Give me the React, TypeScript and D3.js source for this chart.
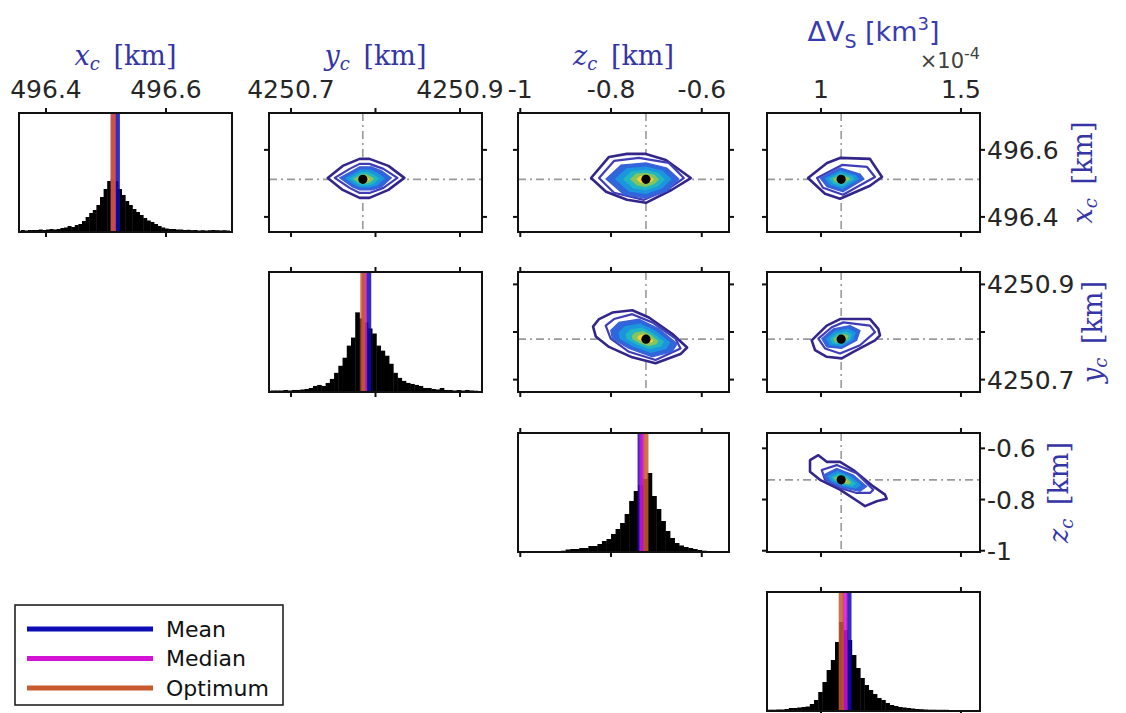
import * as d3 from "d3";
import React, { useEffect, useRef } from "react";

// ---- parameters (same order for columns and rows) ----
const paramDomains: [number, number][] = [
  [496.355, 496.71],
  [4250.674, 4250.926],
  [-1.005, -0.54],
  [0.807, 1.568], // x 1e-4
];
const paramTicks = [
  [496.4, 496.6],
  [4250.7, 4250.8, 4250.9],
  [-1, -0.8, -0.6],
  [1, 1.5],
];
const paramTickLabels = [
  ["496.4", "496.6"],
  ["4250.7", "", "4250.9"],
  ["-1", "-0.8", "-0.6"],
  ["1", "1.5"],
];

const meanValues = [496.519, 4250.792, -0.736, 1.1];
const medianValues = [496.512, 4250.787, -0.732, 1.086];
const optimumValues = [496.512, 4250.785, -0.723, 1.072];

// ---- histograms ----
const histBinStart = [496.358, 4250.676, -1.0, 0.81];
const histBinWidth = [0.006, 0.005, 0.01, 0.015];
const xcCounts = [
  1, 0.5, 1, 1, 1, 1.5, 1, 1.5, 2, 1.5, 2, 3, 3.5, 5, 4, 6, 7, 10, 14, 18, 21, 26, 34, 42, 50, 52, 50, 42, 36, 30,
  26, 22, 19, 16, 13, 10.5, 9, 7, 5, 3.5, 2.5, 2, 2, 1.5, 1.5, 1, 1.2, 0.8, 1, 0.5, 0.8, 0.5, 0.8, 1, 0.8, 0.6, 0.8,
  0.5,
];
const ycCounts = [
  0.5, 0.5, 0.5, 1, 0.5, 1, 1, 1.5, 2, 3, 5, 6, 5, 8, 12, 18, 25, 33, 45, 53, 78, 72, 68, 62, 57, 45, 40, 35, 27, 18,
  13, 10, 8, 7, 6, 5, 3, 3, 2, 1.5, 3, 1, 1, 0.5, 1, 0.5, 1, 0.5, 0.3, 0,
];
const zcCounts = [
  0, 0, 0, 0, 0, 0, 0, 0, 0, 0.3, 1.5, 2, 2, 3, 3, 5, 5, 7, 10, 12, 17, 22, 28, 37, 50, 60, 66, 72, 78, 55, 42, 30,
  20, 13, 8, 5.5, 4, 3, 2, 1, 0.3, 0, 0, 0, 0, 0,
];
const dvCounts = [
  0.3, 0.3, 0.5, 0.5, 1, 2, 2, 2.5, 3, 3.5, 6, 10, 18, 28, 40, 50, 68, 88, 80, 70, 55, 42, 32, 25, 20, 16, 12, 10, 7,
  5, 4, 3, 2.5, 2, 1.5, 1, 0.8, 0.5, 0.3, 0.3, 0.2, 0.2, 0.2, 0, 0, 0, 0, 0, 0, 0,
];
const histCounts = [xcCounts, ycCounts, zcCounts, dvCounts];
const histMax = 118;

// ---- 2D contour rings (data units: [column param, row param]) ----
const ycXc = {
  outer: [[4250.7435, 496.5164], [4250.7612, 496.5522], [4250.7812, 496.5731], [4250.7929, 496.5731], [4250.8153, 496.5522], [4250.8341, 496.5164], [4250.8153, 496.4806], [4250.7929, 496.4567], [4250.7812, 496.4567], [4250.7612, 496.4806]],
  middle: [[4250.7518, 496.5164], [4250.7694, 496.5433], [4250.7812, 496.5582], [4250.7929, 496.5582], [4250.8094, 496.5433], [4250.8259, 496.5164], [4250.8094, 496.4866], [4250.7929, 496.4716], [4250.7812, 496.4716], [4250.7694, 496.4866]],
  core: [[4250.7576, 496.5164], [4250.7729, 496.5373], [4250.7812, 496.5493], [4250.7953, 496.5493], [4250.8071, 496.5373], [4250.8188, 496.5164], [4250.8071, 496.4896], [4250.7953, 496.4806], [4250.7812, 496.4806], [4250.7729, 496.4896]],
};
const zcXc = {
  outer: [[-0.844, 496.516], [-0.8044, 496.579], [-0.7648, 496.588], [-0.7231, 496.588], [-0.6791, 496.57], [-0.6242, 496.516], [-0.6659, 496.481], [-0.7231, 496.442], [-0.7648, 496.451], [-0.811, 496.475]],
  middle: [[-0.8264, 496.516], [-0.7934, 496.567], [-0.7385, 496.576], [-0.6725, 496.561], [-0.6396, 496.516], [-0.6769, 496.481], [-0.7275, 496.451], [-0.7934, 496.472]],
  core: [[-0.811, 496.513], [-0.778, 496.555], [-0.7231, 496.561], [-0.6769, 496.546], [-0.6505, 496.513], [-0.6769, 496.477], [-0.7231, 496.456], [-0.7714, 496.466]],
};
const dvXc = {
  outer: [[0.9536, 496.516], [1.0214, 496.561], [1.0679, 496.576], [1.175, 496.573], [1.2179, 496.519], [1.175, 496.493], [1.0679, 496.454], [1.0143, 496.469]],
  middle: [[0.9857, 496.516], [1.075, 496.555], [1.1643, 496.549], [1.1929, 496.519], [1.0786, 496.466], [1.0071, 496.487]],
  core: [[0.9964, 496.516], [1.0679, 496.546], [1.1393, 496.528], [1.1536, 496.513], [1.0786, 496.475], [1.0214, 496.49]],
};
const zcYc = {
  outer: [[-0.8396, 4250.8113], [-0.8264, 4250.8272], [-0.7971, 4250.8408], [-0.7532, 4250.8458], [-0.7165, 4250.8305], [-0.6653, 4250.7963], [-0.6323, 4250.7674], [-0.6468, 4250.7536], [-0.7018, 4250.7344], [-0.7532, 4250.7468], [-0.8044, 4250.7687], [-0.8336, 4250.7907]],
  middle: [[-0.8117, 4250.8134], [-0.7934, 4250.8272], [-0.7532, 4250.8375], [-0.7092, 4250.8202], [-0.6578, 4250.786], [-0.6468, 4250.7654], [-0.7018, 4250.7412], [-0.7604, 4250.7584], [-0.8007, 4250.786]],
  core: [[-0.8007, 4250.8031], [-0.7824, 4250.8202], [-0.7385, 4250.8272], [-0.6945, 4250.8066], [-0.6543, 4250.7757], [-0.6653, 4250.7584], [-0.7092, 4250.748], [-0.7604, 4250.7654], [-0.7971, 4250.786]],
};
const dvYc = {
  outer: [[0.9668, 4250.7825], [1.0204, 4250.8134], [1.0679, 4250.8272], [1.175, 4250.8272], [1.2046, 4250.8066], [1.2107, 4250.7928], [1.1929, 4250.7825], [1.1154, 4250.7584], [1.0739, 4250.7447], [1.0204, 4250.748], [0.9786, 4250.7619]],
  middle: [[0.9904, 4250.786], [1.0382, 4250.8099], [1.0796, 4250.8202], [1.175, 4250.8134], [1.1929, 4250.7996], [1.1393, 4250.7722], [1.0679, 4250.755], [1.0143, 4250.7654]],
  core: [[1.0025, 4250.786], [1.0439, 4250.8066], [1.1036, 4250.8134], [1.1393, 4250.8031], [1.1275, 4250.7825], [1.0739, 4250.7654], [1.0204, 4250.7687]],
};
const dvZc = {
  outer: [[0.9607, -0.6462], [0.9904, -0.6269], [1.0204, -0.6527], [1.0679, -0.6527], [1.1154, -0.6846], [1.1868, -0.7488], [1.2286, -0.7808], [1.2346, -0.7973], [1.1989, -0.8065], [1.1571, -0.8258], [1.1393, -0.8127], [1.0679, -0.7615], [0.9964, -0.7231], [0.9607, -0.6912]],
  middle: [[1.0025, -0.6846], [1.0561, -0.6654], [1.1275, -0.6973], [1.1868, -0.7615], [1.175, -0.7742], [1.1275, -0.7742], [1.0679, -0.755], [1.0143, -0.7231]],
  core: [[1.0082, -0.7038], [1.0561, -0.6781], [1.1154, -0.7038], [1.1632, -0.7488], [1.1393, -0.7681], [1.0796, -0.755], [1.0261, -0.7296]],
};
// [column param, row param, rings]
const pairPanels: [number, number, typeof ycXc][] = [
  [1, 0, ycXc],
  [2, 0, zcXc],
  [3, 0, dvXc],
  [2, 1, zcYc],
  [3, 1, dvYc],
  [3, 2, dvZc],
];
const coreLevels = [1, 0.78, 0.58, 0.4, 0.24];
const coreColors = ["#2f66dc", "#1b95de", "#22b5c2", "#86c55e", "#f0d23a"];

const legendItems = ["Mean", "Median", "Optimum"];
const legendColors = ["#0c0cb4", "#d414d4", "#c85a2e"];

const W = 1126;
const H = 713;
const colX: [number, number][] = [[19, 232], [269, 482], [518, 729], [767, 980]];
const rowY: [number, number][] = [[113, 232], [272, 392], [433, 552], [592, 711]];
const tickFont = "DejaVu Sans, Liberation Sans, sans-serif";
const labelColor = "#3535a6";

export default function App() {
  const svgRef = useRef<SVGSVGElement>(null);

  useEffect(() => {
    const svg = d3.select(svgRef.current);
    svg.selectAll("*").remove();
    svg.append("rect").attr("width", W).attr("height", H).attr("fill", "#fff");

    const xs = paramDomains.map((d, j) => d3.scaleLinear().domain(d).range(colX[j]));
    const ys = paramDomains.map((d, i) => d3.scaleLinear().domain(d).range([rowY[i][1], rowY[i][0]]));

    const defs = svg.append("defs");

    const drawBox = (g: any, i: number, j: number, hist: boolean) => {
      const [x0, x1] = colX[j];
      const [y0, y1] = rowY[i];
      g.append("rect")
        .attr("x", x0).attr("y", y0).attr("width", x1 - x0).attr("height", y1 - y0)
        .attr("fill", "none").attr("stroke", "#111").attr("stroke-width", 2);
      const tl = 5;
      paramTicks[j].forEach((t) => {
        const x = xs[j](t);
        g.append("line").attr("x1", x).attr("x2", x).attr("y1", y0).attr("y2", y0 - tl).attr("stroke", "#111").attr("stroke-width", 2);
        g.append("line").attr("x1", x).attr("x2", x).attr("y1", y1).attr("y2", y1 + tl).attr("stroke", "#111").attr("stroke-width", 2);
      });
      if (!hist) {
        paramTicks[i].forEach((t) => {
          const y = ys[i](t);
          g.append("line").attr("x1", x0).attr("x2", x0 - tl).attr("y1", y).attr("y2", y).attr("stroke", "#111").attr("stroke-width", 2);
          g.append("line").attr("x1", x1).attr("x2", x1 + tl).attr("y1", y).attr("y2", y).attr("stroke", "#111").attr("stroke-width", 2);
        });
      }
    };

    // ---- 2D panels ----
    pairPanels.forEach(([j, i, rings], k) => {
      const g = svg.append("g");
      const clipId = `clip2d-${k}`;
      defs.append("clipPath").attr("id", clipId).append("rect")
        .attr("x", colX[j][0]).attr("y", rowY[i][0])
        .attr("width", colX[j][1] - colX[j][0]).attr("height", rowY[i][1] - rowY[i][0]);
      const inner = g.append("g").attr("clip-path", `url(#${clipId})`);
      const ox = optimumValues[j];
      const oy = optimumValues[i];
      // dash-dot crosshair at optimum
      inner.append("line")
        .attr("x1", colX[j][0]).attr("x2", colX[j][1]).attr("y1", ys[i](oy)).attr("y2", ys[i](oy))
        .attr("stroke", "#9a9a9a").attr("stroke-width", 1.6).attr("stroke-dasharray", "8,4,2,4");
      inner.append("line")
        .attr("x1", xs[j](ox)).attr("x2", xs[j](ox)).attr("y1", rowY[i][0]).attr("y2", rowY[i][1])
        .attr("stroke", "#9a9a9a").attr("stroke-width", 1.6).attr("stroke-dasharray", "8,4,2,4");

      const line = d3.line<number[]>().x((d) => xs[j](d[0])).y((d) => ys[i](d[1])).curve(d3.curveLinearClosed);
      inner.append("path").attr("d", line(rings.outer)).attr("fill", "#fff")
        .attr("stroke", "#33268a").attr("stroke-width", 2.6).attr("stroke-linejoin", "round");
      inner.append("path").attr("d", line(rings.middle)).attr("fill", "none")
        .attr("stroke", "#3f3cb8").attr("stroke-width", 2.2).attr("stroke-linejoin", "round");
      coreLevels.forEach((s, l) => {
        const pts = rings.core.map((p) => [ox + s * (p[0] - ox), oy + s * (p[1] - oy)]);
        inner.append("path").attr("d", line(pts)).attr("fill", coreColors[l])
          .attr("stroke", l === 0 ? "#3d5fd8" : "none").attr("stroke-width", 1.2);
      });
      inner.append("circle").attr("cx", xs[j](ox)).attr("cy", ys[i](oy)).attr("r", 4.6).attr("fill", "#000");
      drawBox(g, i, j, false);
    });

    // ---- histograms on the diagonal ----
    histCounts.forEach((counts, p) => {
      const g = svg.append("g");
      const clipId = `cliphist-${p}`;
      defs.append("clipPath").attr("id", clipId).append("rect")
        .attr("x", colX[p][0]).attr("y", rowY[p][0])
        .attr("width", colX[p][1] - colX[p][0]).attr("height", rowY[p][1] - rowY[p][0]);
      const inner = g.append("g").attr("clip-path", `url(#${clipId})`);
      const hy = d3.scaleLinear().domain([0, histMax]).range([rowY[p][1] - 1, rowY[p][0]]);
      const x = xs[p];
      inner.selectAll("rect.bar")
        .data(counts)
        .join("rect")
        .attr("class", "bar")
        .attr("x", (_, b) => x(histBinStart[p] + b * histBinWidth[p]))
        .attr("width", (_, b) => x(histBinStart[p] + (b + 1) * histBinWidth[p]) - x(histBinStart[p] + b * histBinWidth[p]) + 0.4)
        .attr("y", (d) => hy(d))
        .attr("height", (d) => hy(0) - hy(d))
        .attr("fill", "#000");
      [meanValues, medianValues, optimumValues].forEach((vals, s) => {
        inner.append("line")
          .attr("x1", x(vals[p])).attr("x2", x(vals[p]))
          .attr("y1", rowY[p][0]).attr("y2", rowY[p][1])
          .attr("stroke", legendColors[s]).attr("stroke-width", 5).attr("opacity", 0.85);
      });
      drawBox(g, p, p, true);
    });

    // ---- top tick labels ----
    paramTicks.forEach((ticks, j) => {
      ticks.forEach((t, k) => {
        svg.append("text").attr("x", xs[j](t)).attr("y", 98).attr("text-anchor", "middle")
          .attr("font-family", tickFont).attr("font-size", 25).attr("fill", "#262626")
          .text(paramTickLabels[j][k]);
      });
    });
    // ---- right tick labels ----
    [0, 1, 2].forEach((i) => {
      paramTicks[i].forEach((t, k) => {
        svg.append("text").attr("x", 987).attr("y", ys[i](t)).attr("dy", "0.36em")
          .attr("font-family", tickFont).attr("font-size", 25).attr("fill", "#262626")
          .text(paramTickLabels[i][k]);
      });
    });

    // ---- parameter labels ----
    const serif = "DejaVu Serif, Liberation Serif, serif";
    const latexLabel = (sel: any, letter: string) => {
      sel.attr("font-family", serif).attr("font-size", 27).attr("fill", labelColor).attr("text-anchor", "middle");
      sel.append("tspan").attr("font-style", "italic").text(letter);
      sel.append("tspan").attr("font-style", "italic").attr("font-size", 18).attr("dy", 5).text("c");
      sel.append("tspan").attr("dy", -5).text("\u2002[km]");
    };
    ["x", "y", "z"].forEach((letter, j) => {
      latexLabel(svg.append("text").attr("x", (colX[j][0] + colX[j][1]) / 2).attr("y", 65), letter);
    });
    const rightLabelX = [1092, 1102, 1068];
    ["x", "y", "z"].forEach((letter, i) => {
      const cy = (rowY[i][0] + rowY[i][1]) / 2;
      latexLabel(
        svg.append("text").attr("transform", `translate(${rightLabelX[i]},${cy}) rotate(-90)`).attr("x", 0).attr("y", 0),
        letter,
      );
    });
    const dv = svg.append("text").attr("x", (colX[3][0] + colX[3][1]) / 2).attr("y", 41)
      .attr("text-anchor", "middle").attr("font-family", tickFont).attr("font-size", 27).attr("fill", "#3b3bb0");
    dv.append("tspan").text("\u0394V");
    dv.append("tspan").attr("font-size", 19).attr("dy", 7).text("S");
    dv.append("tspan").attr("dy", -7).text(" [km");
    dv.append("tspan").attr("font-size", 18).attr("dy", -11).text("3");
    dv.append("tspan").attr("dy", 11).text("]");
    const exp = svg.append("text").attr("x", 980).attr("y", 68).attr("text-anchor", "end")
      .attr("font-family", tickFont).attr("font-size", 21).attr("fill", "#404040");
    exp.append("tspan").text("\u00d710");
    exp.append("tspan").attr("font-size", 16).attr("dy", -9).text("-4");

    // ---- legend ----
    const lg = svg.append("g");
    lg.append("rect").attr("x", 15).attr("y", 605).attr("width", 268).attr("height", 100)
      .attr("fill", "#fff").attr("stroke", "#222").attr("stroke-width", 1.6);
    legendItems.forEach((name, k) => {
      const y = 629 + k * 29.5;
      lg.append("line").attr("x1", 27).attr("x2", 153).attr("y1", y).attr("y2", y)
        .attr("stroke", legendColors[k]).attr("stroke-width", 5);
      lg.append("text").attr("x", 166).attr("y", y).attr("dy", "0.36em")
        .attr("font-family", tickFont).attr("font-size", 22).attr("fill", "#111").text(name);
    });
  }, []);

  return (
    <svg
      ref={svgRef}
      width={W}
      height={H}
      style={{ position: "absolute", left: 0, top: 0, display: "block" }}
    />
  );
}
